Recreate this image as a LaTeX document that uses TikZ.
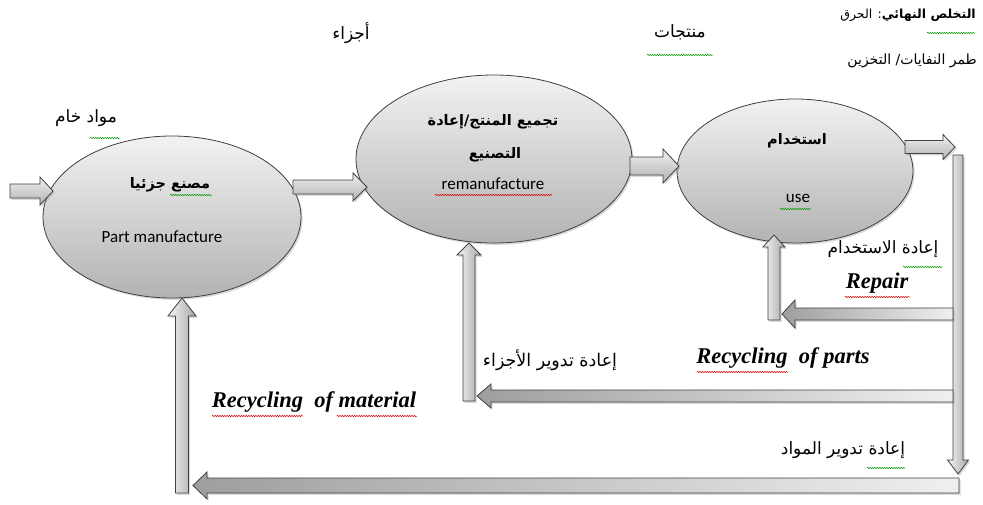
\documentclass[tikz,border=0pt]{standalone}
\usepackage{fontspec}
\setmainfont{Liberation Serif}
\newfontfamily\arfont[Script=Arabic]{DejaVu Sans}
\newfontfamily\calib{Carlito}
\usetikzlibrary{shapes.geometric,shadows,decorations.pathmorphing}
\TeXXeTstate=1

% horizontal block arrow: style, start x, head base x, tip x, centre y, shaft half, head half
\newcommand{\blockH}[7]{\path[#1] (#2,#5-#6) -- (#3,#5-#6) -- (#3,#5-#7) -- (#4,#5)
  -- (#3,#5+#7) -- (#3,#5+#6) -- (#2,#5+#6) -- cycle;}
% vertical block arrow: style, start y, head base y, tip y, centre x, shaft half, head half
\newcommand{\blockV}[7]{\path[#1] (#5-#6,#2) -- (#5-#6,#3) -- (#5-#7,#3) -- (#5,#4)
  -- (#5+#7,#3) -- (#5+#6,#3) -- (#5+#6,#2) -- cycle;}

\begin{document}
\begin{tikzpicture}[x=1pt,y=-1pt,
  softshadow/.style={drop shadow={shadow xshift=1.6pt,shadow yshift=-1.8pt,opacity=0.3}},
  stage/.style={ellipse, draw=black!75, line width=0.8pt, top color=black!5,
    bottom color=black!30, softshadow, inner sep=0pt},
  blockR/.style={draw=black!75, line width=0.8pt, top color=black!6, bottom color=black!30, softshadow},
  blockL/.style={draw=black!75, line width=0.8pt, left color=black!38, right color=black!6, softshadow},
  blockV/.style={draw=black!75, line width=0.8pt, left color=black!3, right color=black!35, softshadow},
  artxt/.style={font=\arfont\fontsize{17}{19}\selectfont, inner sep=0pt},
  arbold/.style={font=\arfont\bfseries\fontsize{14.5}{17}\selectfont, inner sep=0pt},
  entxt/.style={font=\calib\fontsize{17}{19}\selectfont, inner sep=0pt},
  recyc/.style={font=\bfseries\itshape\fontsize{22.5}{24}\selectfont, inner sep=0pt},
  toptxt/.style={font=\arfont\fontsize{12.5}{14}\selectfont, inner sep=0pt, anchor=east},
  squig/.style={decorate, decoration={snake, amplitude=0.7pt, segment length=2.4pt}, line width=0.5pt},
  squigG/.style={squig, draw=green!60!black},
  squigR/.style={squig, draw=red!85!black},
]
\useasboundingbox (0,0) rectangle (983,504);
\fill[white] (0,0) rectangle (983,504);

% the three stages
\node[stage, minimum width=258pt, minimum height=162pt] (pm) at (172,217) {};
\node[stage, minimum width=276pt, minimum height=168pt] (rm) at (494,159) {};
\node[stage, minimum width=236pt, minimum height=144pt] (us) at (795,171) {};

% forward flow
\blockH{blockR}{10}{40}{53}{191}{7}{14}
\blockH{blockR}{293}{353}{367}{187}{7}{14}
\blockH{blockR}{630}{663}{679}{166}{9}{17}
\blockH{blockR}{905}{943}{955}{147}{6.5}{12.5}

% return loops
\blockV{blockV}{155}{460}{474}{958}{5}{10.5}
\blockH{blockL}{953}{795}{782}{314}{6}{14}
\blockV{blockV}{320}{247}{235}{774}{6}{11}
\blockH{blockL}{953}{491}{477}{396}{6}{12}
\blockV{blockV}{401}{255}{243}{469}{6}{12}
\blockH{blockL}{959}{207}{193}{485.5}{7.5}{13.5}
\blockV{blockV}{493}{316}{298}{182}{6.5}{14}

% stage texts
\node[arbold] (pmAr) at (170,185) {\beginR مصنع جزئيا\endR};
\node[entxt] (pmEn) at (162,237) {Part manufacture};
\node[arbold] (rmAr1) at (493,122) {\beginR تجميع المنتج/إعادة\endR};
\node[arbold] (rmAr2) at (495,155) {\beginR التصنيع\endR};
\node[entxt] (rmEn) at (493,184) {remanufacture};
\node[arbold] (usAr) at (797,141) {\beginR استخدام\endR};
\node[entxt] (usEn) at (798,198) {use};

% flow labels
\node[artxt] (raw) at (86,118) {\beginR مواد خام\endR};
\node[artxt] (parts) at (351,33) {\beginR أجزاء\endR};
\node[artxt] (prods) at (680,32) {\beginR منتجات\endR};
\node[toptxt] (disp1) at (976,15) {\beginR{\bfseries التخلص النهائي}: الحرق\endR};
\node[toptxt, font=\arfont\fontsize{14}{16}\selectfont] (disp2) at (977,61) {\beginR طمر النفايات/ التخزين\endR};

\node[artxt] (reuse) at (883,249) {\beginR إعادة الاستخدام\endR};
\node[recyc] (repair) at (877,283) {Repair};
\node[artxt, font=\arfont\fontsize{17.5}{19}\selectfont] (rparts) at (550,360) {\beginR إعادة تدوير الأجزاء\endR};
\node[recyc] (rpartsEn) at (783,358) {Recycling\ \ of parts};
\node[recyc] (rmatEn) at (314,402) {Recycling\ \ of material};
\node[artxt] (rmat) at (843,450) {\beginR إعادة تدوير المواد\endR};

% proofing marks under words
\draw[squigG] (90,138) -- (120,138);
\draw[squigG] (170,195) -- (212,195);
\draw[squigR] (435,195) -- (552,195);
\draw[squigG] (780,209) -- (811,209);
\draw[squigG] (647,55) -- (713,55);
\draw[squigG] (927,33) -- (975,33);
\draw[squigG] (903,267) -- (942,267);
\draw[squigR] (845,297) -- (910,297);
\draw[squigR] (697,372) -- (788,372);
\draw[squigR] (212,416) -- (303,416);
\draw[squigR] (337,416) -- (417,416);
\draw[squigG] (867,468) -- (905,468);
\end{tikzpicture}
\end{document}
